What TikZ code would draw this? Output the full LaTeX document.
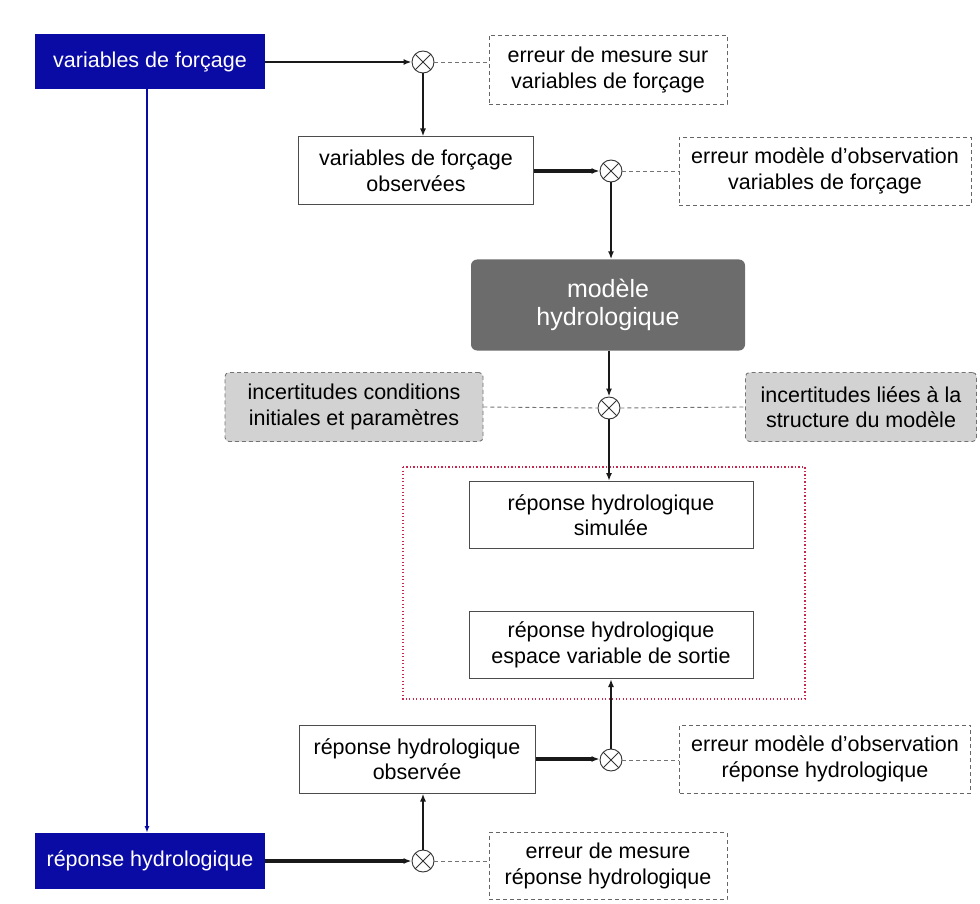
\documentclass[tikz,border=0pt]{standalone}
\usepackage{fontspec}
\setmainfont{Liberation Sans}
\usetikzlibrary{arrows.meta}
\definecolor{fblue}{RGB}{10,10,165}
\definecolor{mgray}{RGB}{108,108,108}
\definecolor{lgray}{RGB}{210,210,210}
\definecolor{dred}{RGB}{200,40,80}
\begin{document}
\begin{tikzpicture}[x=1pt,y=-1pt,
  every node/.style={font=\fontsize{21.5}{25.5}\selectfont, align=center, inner sep=0pt},
  bluebox/.style={fill=fblue, text=white, minimum width=230, minimum height=55},
  whitebox/.style={draw=black!70, line width=1pt, fill=white},
  errbox/.style={draw=black!60, dash pattern=on 4pt off 3pt, line width=0.9pt},
  incbox/.style={draw=black!55, dash pattern=on 4pt off 3pt, fill=lgray, rounded corners=4pt, line width=0.9pt},
  modbox/.style={fill=mgray, text=white, rounded corners=6pt, font=\fontsize{25}{28}\selectfont},
  otimes/.style={circle, draw=black!80, line width=0.9pt, minimum size=22,
    path picture={\draw[black!80, line width=0.9pt]
      (path picture bounding box.south west) -- (path picture bounding box.north east)
      (path picture bounding box.north west) -- (path picture bounding box.south east);}},
  arr/.style={-{Latex[length=8pt,width=6pt]}, line width=2.4pt, black!90},
  arrthick/.style={-{Latex[length=8pt,width=6pt]}, line width=3.2pt, black!90},
  dcon/.style={dash pattern=on 4pt off 3pt, draw=black!55, line width=0.9pt}
]
\useasboundingbox (0,0) rectangle (980,904);

% red dotted frame
\draw[dred, dash pattern=on 1.3pt off 2.2pt, line width=1.3pt] (403,467) rectangle (805,699);

% nodes
\node[bluebox] (vf) at (150,62) {variables de forçage};
\node[otimes] (o1) at (423,62) {};
\node[errbox, minimum width=238, minimum height=69] (e1) at (608,70) {erreur de mesure sur\\variables de forçage};

\node[whitebox, minimum width=235, minimum height=68] (vfo) at (416,171) {variables de forçage\\observées};
\node[otimes] (o2) at (611,171) {};
\node[errbox, minimum width=292, minimum height=68] (e2) at (825,171) {erreur modèle d'observation\\variables de forçage};

\node[modbox, minimum width=274, minimum height=91] (mod) at (608,305) {modèle\\hydrologique};

\node[otimes] (o3) at (609,408) {};
\node[incbox, minimum width=258, minimum height=69] (i1) at (354,407) {incertitudes conditions\\initiales et paramètres};
\node[incbox, minimum width=231, minimum height=69] (i2) at (861,407) {incertitudes liées à la\\structure du modèle};

\node[whitebox, minimum width=284, minimum height=67] (rhs) at (611,515) {réponse hydrologique\\simulée};
\node[whitebox, minimum width=284, minimum height=67] (rhe) at (611,645) {réponse hydrologique\\espace variable de sortie};

\node[whitebox, minimum width=236, minimum height=68] (rho) at (417,759) {réponse hydrologique\\observée};
\node[otimes] (o4) at (611,760) {};
\node[errbox, minimum width=291, minimum height=68] (e3) at (825,759) {erreur modèle d'observation\\réponse hydrologique};

\node[bluebox, minimum height=56] (rh) at (150,861) {réponse hydrologique};
\node[otimes] (o5) at (423,861) {};
\node[errbox, minimum width=238, minimum height=67] (e4) at (608,866) {erreur de mesure\\réponse hydrologique};

% connectors
\draw[arr] (vf.east) -- (o1.west);
\draw[dcon] (o1.east) -- (o1.east -| e1.west);
\draw[arr] (o1.south) -- (o1.south |- vfo.north);

\draw[arrthick] (vfo.east) -- (o2.west);
\draw[dcon] (o2.east) -- (e2.west);
\draw[arr] (o2.south) -- (o2.south |- mod.north);

\draw[arr] (mod.south -| o3) -- (o3.north);
\draw[dcon] (i1.east) -- (o3.west);
\draw[dcon] (o3.east) -- (i2.west);
\draw[arr] (o3.south) -- (o3.south |- rhs.north);

\draw[arrthick] (rh.east) -- (o5.west);
\draw[dcon] (o5.east) -- (o5.east -| e4.west);
\draw[arr] (o5.north) -- (o5.north |- rho.south);

\draw[arrthick] (rho.east) -- (rho.east -| o4.west);
\draw[dcon] (o4.east) -- (o4.east -| e3.west);
\draw[arr] (o4.north) -- (o4.north |- rhe.south);

\draw[-{Latex[length=7pt,width=5pt]}, fblue, line width=2.2pt] (147,89.5) -- (147,833);
\end{tikzpicture}
\end{document}
